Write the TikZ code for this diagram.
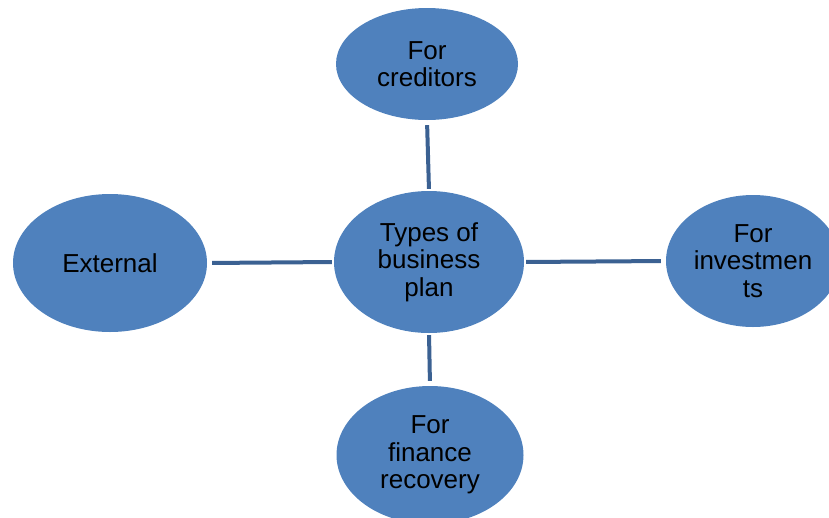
\documentclass[tikz,border=0pt]{standalone}
\usepackage{fontspec}
\setmainfont{Liberation Sans}
\usetikzlibrary{shapes.geometric}
\definecolor{blobblue}{HTML}{4F81BD}
\definecolor{linkblue}{HTML}{3B6192}
\tikzset{
	blob/.style={ellipse,fill=blobblue,draw=none,inner sep=0,align=center,
		font=\fontsize{26}{27.5}\selectfont},
	link/.style={linkblue,line width=4pt,shorten <=2pt,shorten >=5pt}
}
\begin{document}
\begin{tikzpicture}[x=1pt,y=1pt,line join=round]
	\useasboundingbox (0,0) rectangle (829,-517);
	\clip (0,0) rectangle (829,-517);
	\path(429,-262)node[blob,minimum width=190,minimum height=142](core){Types of\\business\\plan}
	++(-2,198)node[blob,minimum width=182,minimum height=112](cred){For\\creditors}
	(core)++(-319,-1)node[blob,minimum width=194,minimum height=138](ext){External}
	(core)++(324,1)node[blob,minimum width=174,minimum height=132](inv){For\\investmen\\ts}
	(core)++(1,-193)node[blob,minimum width=187,minimum height=138](rec){For\\finance\\recovery}
	;
	\draw[link](core.north)--(cred.south);
	\draw[link](core.west)--(ext.east);
	\draw[link](core.east)--(inv.west);
	\draw[link](core.south)--(rec.north);
\end{tikzpicture}
\end{document}
